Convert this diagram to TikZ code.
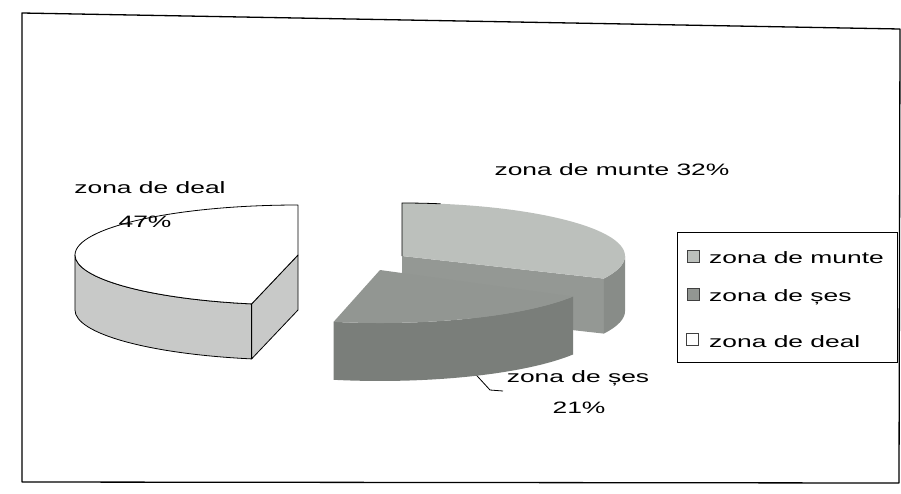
\documentclass[tikz,border=0pt]{standalone}
\usepackage{graphicx}
\usepackage{fontspec}
\setmainfont{Liberation Sans}
\usetikzlibrary{calc}
\newcommand{\wtxt}[1]{\scalebox{1.6}[1]{#1}}
\definecolor{dealside}{RGB}{200,201,200}
\definecolor{muntetop}{RGB}{188,192,188}
\definecolor{munteside}{RGB}{148,152,148}
\definecolor{sestop}{RGB}{146,150,146}
\definecolor{sesside}{RGB}{122,126,122}
\begin{document}
\begin{tikzpicture}[x=1pt,y=-1pt,
  font=\fontsize{16.5}{19}\selectfont,
  lbl/.style={inner sep=0pt, anchor=base},
  legtxt/.style={inner sep=0pt, anchor=base west},
  dealedge/.style={draw=black, line width=0.8pt, line join=round},
  ell/.style={x radius=223, y radius=50},
  ellb/.style={x radius=223, y radius=53},
  legsq/.style={draw=black!75, line width=0.6pt}]
\useasboundingbox (0,0) rectangle (901,493);
\fill[white] (0,0) rectangle (901,493);
% frame
\draw[line width=1.3pt, line join=round] (22,13) -- (900,29) -- (899,483) -- (22,482) -- cycle;

% ---- zona de deal slice (47%)
\coordinate (c1) at (298,255);
\filldraw[fill=dealside, dealedge] (75,255) arc[start angle=180, end angle=102, ell]
  -- (251.6,358.9) arc[start angle=102, end angle=180, ell] -- cycle;
\filldraw[fill=dealside, dealedge] (c1) -- (251.6,303.9) -- (251.6,358.9) -- (298,310) -- cycle;
\filldraw[fill=white, dealedge] (c1) -- (298,205) arc[start angle=-90, end angle=-258, ell] -- cycle;

% ---- zona de munte slice (32%)
\coordinate (c2) at (402,256);
\fill[munteside] (c2) -- (603.8,278.6) -- (603.8,333.6) -- (402,311) -- cycle;
\fill[munteside!92!black] (625,256) arc[start angle=0, end angle=25.2, ellb]
  -- (603.8,333.6) arc[start angle=25.2, end angle=0, ellb] -- cycle;
\fill[muntetop] (c2) -- (402,203) arc[start angle=-90, end angle=25.2, ellb] -- cycle;
\draw[line width=0.8pt] (c2) -- (402,203) arc[start angle=-90, end angle=-80, ellb];

% ---- labels
\node[lbl] (ldeal) at (150,193) {\wtxt{zona de deal}};
\node[lbl] (pdeal) at (145,227) {\wtxt{47\%}};
\node[lbl] (lmunte) at (612,175) {\wtxt{zona de munte 32\%}};
\node[lbl] (lses) at (578,382) {\wtxt{zona de șes}};
\node[lbl] (pses) at (579,413) {\wtxt{21\%}};

% leader for zona de ses
\coordinate (ls1) at (468,366);
\coordinate (ls2) at (490,390);
\coordinate (ls3) at (503,391);
\draw[line width=0.8pt] (ls1) -- (ls2) -- (ls3);

% ---- zona de ses slice (21%)
\coordinate (c3) at (380,270);
\fill[sesside] (573.1,296.5) arc[start angle=30, end angle=102, ellb]
  -- (333.6,379.8) arc[start angle=102, end angle=30, ellb] -- cycle;
\fill[sestop] (c3) -- (573.1,296.5) arc[start angle=30, end angle=102, ellb] -- cycle;

% ---- legend
\draw[line width=0.8pt] (677,232) rectangle (897,362);
\filldraw[fill=muntetop, legsq] (687,250) rectangle (699,262);
\filldraw[fill=sestop, legsq] (687,288) rectangle (699,300);
\filldraw[fill=white, legsq] (686,333) rectangle (698,345);
\node[legtxt] (gmunte) at (709,263) {\wtxt{zona de munte}};
\node[legtxt] (gses) at (709,301) {\wtxt{zona de șes}};
\node[legtxt] (gdeal) at (709,347) {\wtxt{zona de deal}};
\end{tikzpicture}
\end{document}
